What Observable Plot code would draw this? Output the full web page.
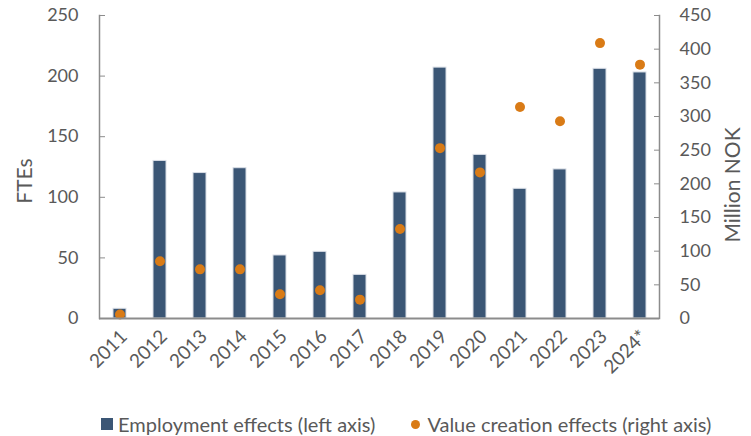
<!DOCTYPE html>
<html><head><meta charset="utf-8">
<script src="https://cdn.jsdelivr.net/npm/d3@7"></script>
<script src="https://cdn.jsdelivr.net/npm/@observablehq/plot@0.6"></script>
<style>
body{margin:0;background:#fff;font-family:Lato, sans-serif;}
#chart{position:relative;width:751px;height:436px;overflow:hidden;}
#chart svg{position:absolute;left:0;top:0;}
.legend{position:absolute;left:101px;top:412px;display:flex;align-items:center;font-size:20px;color:#595959;white-space:nowrap;line-height:24px;}
.sw{display:inline-block;width:12px;height:12px;background:#3b5675;margin-right:5px;}
.dt{display:inline-block;width:9px;height:9px;border-radius:50%;background:#d97b16;margin-left:36px;margin-right:7px;}
</style></head><body><div id="chart"></div>
<script>
const years = ["2011","2012","2013","2014","2015","2016","2017","2018","2019","2020","2021","2022","2023","2024*"];
const employment = [8,130,120,124,52,55,36,104,207,135,107,123,206,203];
const valueCreation = [6,85,73,73,36,42,28,133,253,217,314,293,409,377];
const leftTicks = [0,50,100,150,200,250];
const rightTicks = [0,50,100,150,200,250,300,350,400,450];
const leftLabel = "FTEs";
const rightLabel = "Million NOK";
const legendLabels = ["Employment effects (left axis)","Value creation effects (right axis)"];

const k = 250/450;
const data = years.map((y,i)=>({year:y, fte:employment[i], nok:valueCreation[i]}));
const axisColor = "#8c8c8c";
const textColor = "#595959";

const plot = Plot.plot({
  width:751, height:400,
  marginLeft:99, marginRight:92, marginTop:15, marginBottom:82,
  style:{fontFamily:"Lato, sans-serif", fontSize:"18px", color:textColor, background:"#fff"},
  x:{domain:years, paddingInner:0.675, paddingOuter:0.3375},
  y:{domain:[0,250]},
  marks:[
    Plot.barY(data,{x:"year", y:"fte", fill:"#3b5675", stroke:"#d9dee6", strokeWidth:1}),
    Plot.dot(data,{x:"year", y:d=>d.nok*k, r:5, fill:"#d97b16", stroke:"none"}),
    Plot.ruleY([0],{stroke:axisColor, strokeWidth:2}),
    Plot.frame({anchor:"left", stroke:axisColor, strokeWidth:1.5}),
    Plot.frame({anchor:"right", stroke:axisColor, strokeWidth:1.5}),
    Plot.axisY({anchor:"left", ticks:leftTicks, tickSize:-6, tickPadding:27, stroke:axisColor, fill:textColor, label:null}),
    Plot.axisY({anchor:"right", ticks:rightTicks.map(v=>v*k), tickFormat:v=>String(Math.round(v/k)), tickSize:-6, tickPadding:26, stroke:axisColor, fill:textColor, label:null}),
    Plot.axisX({tickSize:0, tickRotate:-45, tickPadding:15, dx:4, fill:textColor, fontSize:19, label:null}),
    Plot.text([leftLabel],{frameAnchor:"left", textAnchor:"middle", text:d=>d, rotate:-90, dx:-74, dy:14, fill:textColor, fontSize:21}),
    Plot.text([rightLabel],{frameAnchor:"right", textAnchor:"middle", text:d=>d, rotate:-90, dx:74, dy:18, fill:textColor, fontSize:21})
  ]
});
const c = document.getElementById("chart");
c.appendChild(plot);
const lg = document.createElement("div");
lg.className = "legend";
lg.innerHTML = `<span class="sw"></span><span>${legendLabels[0]}</span><span class="dt"></span><span>${legendLabels[1]}</span>`;
c.appendChild(lg);
</script>
</body></html>
